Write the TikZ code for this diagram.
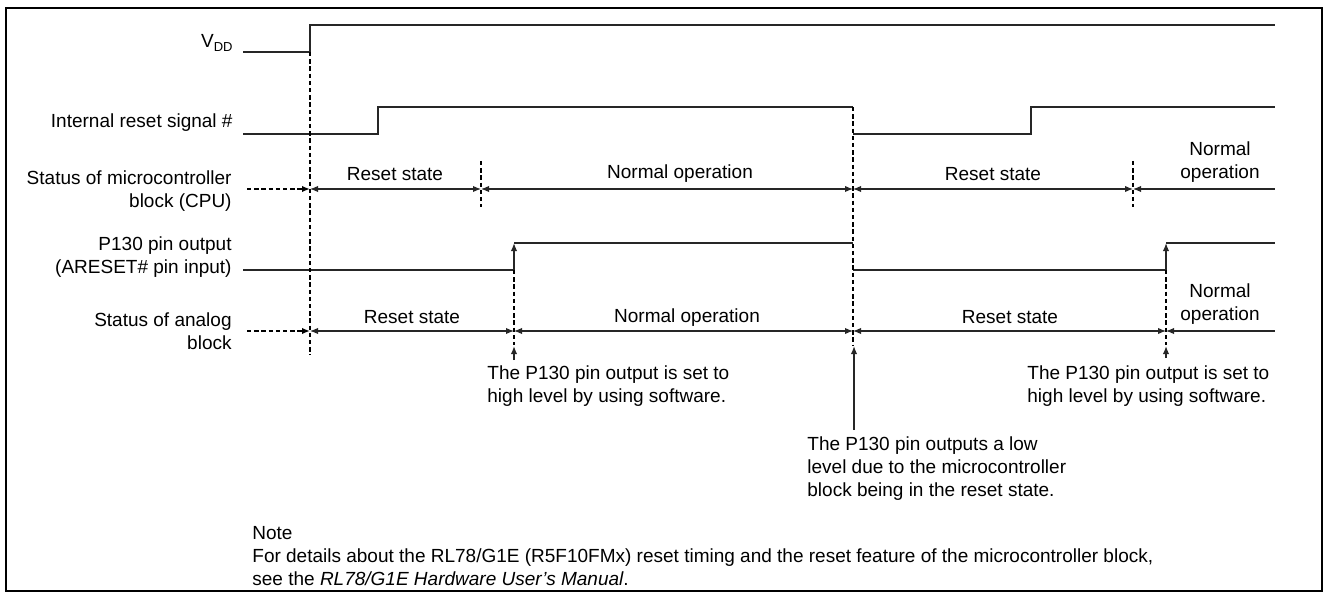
\documentclass[tikz,border=0pt]{standalone}
\usepackage{fontspec}
\setmainfont{Liberation Sans}
\usetikzlibrary{arrows.meta}
\tikzset{
  tip/.tip={Latex[length=4pt,width=3.2pt]},
  sig/.style={line width=0.7pt, draw=black!85},
  guide/.style={line width=0.75pt, dash pattern=on 2.2pt off 1.4pt},
  dur/.style={line width=0.6pt, draw=black!85, tip-tip},
  durl/.style={line width=0.6pt, draw=black!85, tip-},
  lbl/.style={anchor=east, align=right, inner sep=0pt},
  txt/.style={inner sep=0pt, align=center},
  annot/.style={anchor=west, align=left, inner sep=0pt}
}
\begin{document}
\begin{tikzpicture}[x=0.5pt, y=-0.5pt, font=\fontsize{9.5}{11.5}\selectfont]
\useasboundingbox (0,0) rectangle (1326,593);
\draw[line width=1.3pt] (6,8) rectangle (1322,591);

% signal names
\node[lbl] (vdd) at (233,43) {V\raisebox{-0.35ex}{\fontsize{6.5}{7}\selectfont DD}};
\node[lbl] (rst) at (233,123) {Internal reset signal \#};
\node[lbl] (cpu) at (232,191) {Status of microcontroller\\block (CPU)};
\node[lbl] (pin) at (232,257) {P130 pin output\\(ARESET\# pin input)};
\node[lbl] (ana) at (232,331) {Status of analog\\block};

% waveforms
\draw[sig] (243,52) -- (310,52) -- (310,25) -- (1275,25);
\draw[sig] (243,134) -- (378,134) -- (378,107) -- (853,107);
\draw[sig] (853,134) -- (1031,134) -- (1031,107) -- (1275,107);
\draw[sig] (243,270) -- (514,270);
\draw[sig,-tip] (514,270) -- (514,243);
\draw[sig] (514,243) -- (853,243);
\draw[sig] (853,270) -- (1166,270);
\draw[sig,-tip] (1166,270) -- (1166,243);
\draw[sig] (1166,243) -- (1275,243);

% timing guides
\draw[guide] (310,52) -- (310,355);
\draw[guide] (481,161) -- (481,207);
\draw[guide] (1133,161) -- (1133,207);
\draw[guide] (853,107) -- (853,345);
\draw[guide] (514,270) -- (514,345);
\draw[guide] (1166,270) -- (1166,345);

% status rows
\foreach \n/\x in {in/247, a/310, b/481, c/853, d/1133, e/1275}
  \coordinate (cpu\n) at (\x,189);
\foreach \n/\x in {in/247, a/310, b/514, c/853, d/1166, e/1275}
  \coordinate (ana\n) at (\x,331);
\draw[guide,-tip] (cpuin) -- (cpua);
\draw[dur] (cpua) -- (cpub);
\draw[dur] (cpub) -- (cpuc);
\draw[dur] (cpuc) -- (cpud);
\draw[durl] (cpud) -- (cpue);
\draw[guide,-tip] (anain) -- (anaa);
\draw[dur] (anaa) -- (anab);
\draw[dur] (anab) -- (anac);
\draw[dur] (anac) -- (anad);
\draw[durl] (anad) -- (anae);

\node[txt] (cpu1) at (395,174) {Reset state};
\node[txt] (cpu2) at (680,174) {Normal operation};
\node[txt] (cpu3) at (993,174) {Reset state};
\node[txt] (cpu4) at (1220,162) {Normal\\operation};
\node[txt] (ana1) at (412,317) {Reset state};
\node[txt] (ana2) at (687,318) {Normal operation};
\node[txt] (ana3) at (1010,317) {Reset state};
\node[txt] (ana4) at (1220,304) {Normal\\operation};

% annotations
\node[annot] (sw1) at (487,386) {The P130 pin output is set to\\high level by using software.};
\node[annot] (low) at (807,469) {The P130 pin outputs a low\\level due to the microcontroller\\block being in the reset state.};
\node[annot] (sw2) at (1027,386) {The P130 pin output is set to\\high level by using software.};
\coordinate (sw1a) at (514,360);
\coordinate (sw1b) at (514,346);
\coordinate (lowa) at (854,430);
\coordinate (lowb) at (854,346);
\coordinate (sw2a) at (1166,358);
\coordinate (sw2b) at (1166,346);
\draw[sig,-tip] (sw1a) -- (sw1b);
\draw[sig,-tip] (lowa) -- (lowb);
\draw[sig,-tip] (sw2a) -- (sw2b);

\node[annot] (note) at (252,556) {Note\\For details about the RL78/G1E (R5F10FMx) reset timing and the reset feature of the microcontroller block,\\see the \textit{RL78/G1E Hardware User’s Manual}.};
\end{tikzpicture}
\end{document}
